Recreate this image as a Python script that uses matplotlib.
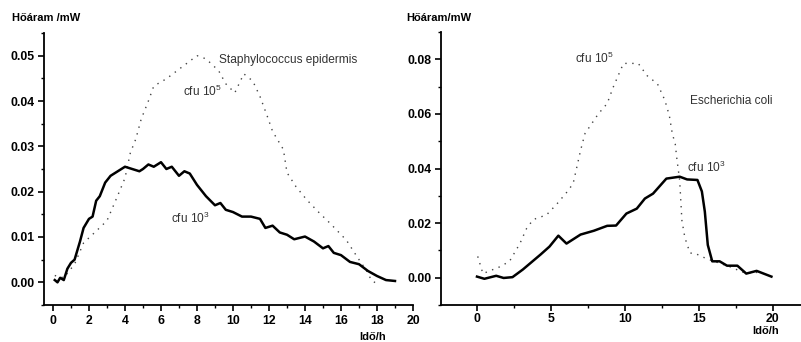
import matplotlib
matplotlib.use('Agg')
import matplotlib.pyplot as plt
from matplotlib.ticker import MultipleLocator, FormatStrFormatter

plt.rcParams['font.family'] = ['Liberation Sans', 'DejaVu Sans']
plt.rcParams['mathtext.fontset'] = 'custom'
plt.rcParams['mathtext.rm'] = 'Liberation Sans'

# Staphylococcus epidermis, cfu 10^3 (folytonos)
staph3_t = [0.1, 0.25, 0.4, 0.6, 0.8, 1.0, 1.2, 1.5, 1.7, 2.0, 2.2, 2.4, 2.6, 2.9, 3.2,
            3.6, 4.0, 4.4, 4.8, 5.0, 5.3, 5.6, 6.0, 6.3, 6.6, 7.0, 7.3, 7.6, 8.0, 8.5,
            9.0, 9.3, 9.6, 10.0, 10.5, 11.0, 11.5, 11.8, 12.2, 12.6, 13.0, 13.4, 14.0,
            14.5, 15.0, 15.3, 15.6, 16.0, 16.5, 17.0, 17.5, 18.0, 18.5, 19.0]
staph3_q = [0.0005, 0.0, 0.001, 0.0005, 0.003, 0.0043, 0.005, 0.009, 0.012, 0.014,
            0.0145, 0.018, 0.019, 0.022, 0.0235, 0.0245, 0.0255, 0.025, 0.0245, 0.025,
            0.026, 0.0255, 0.0265, 0.025, 0.0255, 0.0235, 0.0245, 0.024, 0.0215, 0.019,
            0.017, 0.0175, 0.016, 0.0155, 0.0145, 0.0145, 0.014, 0.012, 0.0125, 0.011,
            0.0105, 0.0095, 0.0101, 0.009, 0.0075, 0.008, 0.0065, 0.006, 0.0045, 0.004,
            0.0025, 0.0014, 0.0005, 0.0003]

# Staphylococcus epidermis, cfu 10^5 (pontozott)
staph5_t = [0.1, 0.6, 1.2, 1.7, 2.4, 3.0, 3.55, 4.0, 4.3, 4.6, 4.9, 5.3, 5.6, 6.3, 6.9,
            7.5, 8.0, 8.5, 9.2, 9.6, 10.1, 10.6, 11.1, 11.5, 11.9, 12.2, 12.8, 13.0,
            13.5, 14.1, 14.8, 15.4, 16.3, 16.9, 17.4, 17.7, 18.0]
staph5_q = [0.0015, 0.001, 0.004, 0.0087, 0.0113, 0.0136, 0.0187, 0.023, 0.0286, 0.0316,
            0.036, 0.040, 0.0433, 0.0449, 0.0467, 0.0485, 0.050, 0.0493, 0.0467, 0.0438,
            0.0418, 0.046, 0.0444, 0.041, 0.0367, 0.0333, 0.0293, 0.0242, 0.0211, 0.0182,
            0.0153, 0.013, 0.0093, 0.0056, 0.0027, 0.0004, -0.0003]

# Escherichia coli, cfu 10^3 (folytonos)
ecoli3_t = [0.0, 0.5, 1.3, 1.8, 2.4, 3.1, 4.3, 4.9, 5.5, 6.05, 7.0, 7.9, 8.8, 9.4, 10.1,
            10.8, 11.35, 11.9, 12.8, 13.7, 14.2, 14.9, 15.2, 15.4, 15.6, 15.9, 16.4,
            16.9, 17.6, 18.2, 18.9, 19.9]
ecoli3_q = [0.0004, -0.0004, 0.0007, -0.0001, 0.0002, 0.003, 0.0085, 0.0114, 0.0154,
            0.0125, 0.0158, 0.0172, 0.019, 0.0191, 0.0235, 0.0253, 0.029, 0.0308, 0.0363,
            0.037, 0.036, 0.0358, 0.0316, 0.0242, 0.012, 0.006, 0.006, 0.0044, 0.0044,
            0.0015, 0.0025, 0.0004]

# Escherichia coli, cfu 10^5 (pontozott)
ecoli5_t = [0.05, 0.4, 1.55, 2.2, 2.9, 3.35, 3.8, 4.7, 5.4, 6.1, 6.5, 7.0, 7.3, 8.2, 8.8,
            9.2, 9.7, 9.9, 10.9, 11.5, 12.2, 12.7, 13.0, 13.2, 13.4, 13.5, 13.7, 13.85,
            14.05, 14.4, 14.7, 15.5, 17.1, 18.2, 19.0]
ecoli5_q = [0.0078, 0.0015, 0.004, 0.006, 0.0125, 0.018, 0.0213, 0.023, 0.027, 0.0315,
            0.0345, 0.0466, 0.0528, 0.060, 0.0638, 0.0697, 0.076, 0.0785, 0.0785, 0.074,
            0.071, 0.065, 0.0594, 0.0528, 0.049, 0.044, 0.0356, 0.021, 0.0147, 0.009,
            0.009, 0.007, 0.004, 0.0015, 0.002]

fig = plt.figure(figsize=(8.01, 3.42), dpi=100)
bal = fig.add_axes([0.0549, 0.1082, 0.4607, 0.7953])
jobb = fig.add_axes([0.5506, 0.1082, 0.4494, 0.7982])

pont = (0, (1, 4))
bal.plot(staph5_t, staph5_q, color='#444444', linestyle=pont, linewidth=1.0)
bal.plot(staph3_t, staph3_q, color='black', linewidth=1.8)
jobb.plot(ecoli5_t, ecoli5_q, color='#444444', linestyle=pont, linewidth=1.0)
jobb.plot(ecoli3_t, ecoli3_q, color='black', linewidth=1.8)

bal.set_xlim(-0.5, 20)
bal.set_ylim(-0.005, 0.055)
bal.xaxis.set_major_locator(MultipleLocator(2))
bal.xaxis.set_minor_locator(MultipleLocator(1))
bal.yaxis.set_major_locator(MultipleLocator(0.01))
bal.yaxis.set_minor_locator(MultipleLocator(0.005))

jobb.set_xlim(-2.43, 21.9)
jobb.set_ylim(-0.01, 0.09)
jobb.xaxis.set_major_locator(MultipleLocator(5))
jobb.xaxis.set_minor_locator(MultipleLocator(2.5))
jobb.yaxis.set_major_locator(MultipleLocator(0.02))
jobb.yaxis.set_minor_locator(MultipleLocator(0.01))

for ax in (bal, jobb):
    ax.spines['top'].set_visible(False)
    ax.spines['right'].set_visible(False)
    ax.spines['left'].set_linewidth(1.3)
    ax.spines['bottom'].set_linewidth(1.3)
    ax.yaxis.set_major_formatter(FormatStrFormatter('%.2f'))
    ax.tick_params(which='major', direction='out', length=4, width=1.2,
                   labelsize=8.8, pad=3)
    ax.tick_params(which='minor', direction='out', length=2.5, width=1)
    for lab in ax.get_xticklabels() + ax.get_yticklabels():
        lab.set_fontweight('bold')
jobb.tick_params(axis='x', which='major', pad=2)

fig.text(12 / 801, 1 - 18 / 342, 'Hőáram /mW', fontsize=8, fontweight='bold',
         va='center', ha='left')
fig.text(406 / 801, 1 - 18 / 342, 'Hőáram/mW', fontsize=8, fontweight='bold',
         va='center', ha='left')
fig.text(373 / 801, 1 - 337 / 342, 'Idő/h', fontsize=8, fontweight='bold',
         va='center', ha='center')
fig.text(766 / 801, 1 - 331 / 342, 'Idő/h', fontsize=8, fontweight='bold',
         va='center', ha='center')

szoveg = dict(fontsize=8.6, color='#333333', va='center', ha='left')
fig.text(219 / 801, 1 - 60 / 342, 'Staphylococcus epidermis', **szoveg)
fig.text(183 / 801, 1 - 91 / 342, 'cfu 10$^5$', **szoveg)
fig.text(171 / 801, 1 - 218 / 342, 'cfu 10$^3$', **szoveg)
fig.text(575 / 801, 1 - 58 / 342, 'cfu 10$^5$', **szoveg)
fig.text(690 / 801, 1 - 101 / 342, 'Escherichia coli', **szoveg)
fig.text(687 / 801, 1 - 167 / 342, 'cfu 10$^3$', **szoveg)

fig.savefig('out.png', dpi=100)
